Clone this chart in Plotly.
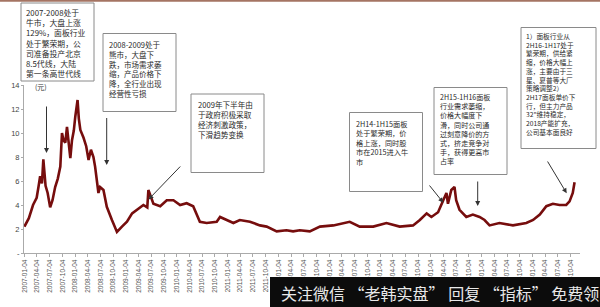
import plotly.graph_objects as go

# ---- data ----
dates = [
    "2007-01-04", "2007-02-05", "2007-03-07", "2007-04-02", "2007-04-15", "2007-04-27", "2007-05-10",
    "2007-05-20", "2007-06-05", "2007-06-20", "2007-07-08", "2007-07-25", "2007-08-13", "2007-09-01",
    "2007-09-19", "2007-10-01", "2007-10-12", "2007-10-25", "2007-11-06", "2007-11-18", "2007-11-30",
    "2007-12-12", "2007-12-25", "2008-01-05", "2008-01-21", "2008-01-30", "2008-02-10", "2008-03-04",
    "2008-03-23", "2008-04-09", "2008-04-26", "2008-05-14", "2008-05-26", "2008-06-19", "2008-07-01",
    "2008-07-25", "2008-08-18", "2008-09-24", "2008-10-30", "2008-12-05", "2009-01-10", "2009-02-16",
    "2009-03-21", "2009-05-08", "2009-06-05", "2009-06-13", "2009-07-19", "2009-09-06", "2009-10-23",
    "2009-12-10", "2010-01-27", "2010-03-15", "2010-05-01", "2010-06-18", "2010-08-06", "2010-10-17",
    "2010-11-10", "2010-12-28", "2011-02-14", "2011-04-01", "2011-06-13", "2011-08-24", "2011-10-11",
    "2011-12-22", "2012-03-01", "2012-04-18", "2012-06-05", "2012-08-16", "2012-10-28", "2013-02-01",
    "2013-05-30", "2013-08-10", "2013-11-15", "2014-02-18", "2014-05-24", "2014-08-28", "2014-10-16",
    "2014-12-04", "2015-01-07", "2015-02-24", "2015-04-01", "2015-04-25", "2015-05-06", "2015-05-30",
    "2015-06-22", "2015-07-04", "2015-07-28", "2015-09-15", "2015-11-01", "2015-12-19", "2016-01-24",
    "2016-02-29", "2016-05-10", "2016-08-15", "2016-11-19", "2017-01-07", "2017-02-24", "2017-04-12",
    "2017-05-29", "2017-07-16", "2017-09-02", "2017-09-26", "2017-10-19", "2017-11-01",
]
price = [
    2.2, 2.9, 4.0, 4.6, 5.5, 6.4, 5.8,
    7.8, 5.6, 5.0, 3.8, 4.4, 5.5, 6.2,
    7.2, 10.0, 9.4, 9.2, 10.5, 9.0, 7.9,
    9.4, 10.2, 11.4, 12.75, 11.2, 10.25, 9.6,
    8.9, 7.75, 8.6, 8.0, 7.2, 5.0, 5.5,
    5.25, 3.85, 2.75, 1.75, 2.2, 2.6, 3.3,
    3.6, 4.0, 3.8, 5.25, 4.1, 3.9, 4.4,
    4.4, 4.0, 4.15, 3.9, 2.6, 2.5, 2.6,
    3.0, 2.75, 2.5, 2.75, 2.6, 2.3, 2.2,
    1.8, 1.9, 1.8, 1.9, 1.8, 2.2, 2.3,
    2.6, 2.2, 2.2, 2.5, 2.2, 2.3, 2.75,
    3.3, 3.0, 3.4, 4.4, 5.0, 4.1, 5.25,
    5.5, 4.4, 3.6, 3.0, 3.2, 3.0, 2.75,
    2.3, 2.5, 2.3, 2.5, 2.75, 3.2, 3.9,
    4.1, 4.0, 4.0, 4.3, 5.0, 5.9,
]

tick_dates = [
    "2007-01-04", "2007-04-04", "2007-07-04", "2007-10-04",
    "2008-01-04", "2008-04-04", "2008-07-04", "2008-10-04",
    "2009-01-04", "2009-04-04", "2009-07-04", "2009-10-04",
    "2010-01-04", "2010-04-04", "2010-07-04", "2010-10-04",
    "2011-01-04", "2011-04-04", "2011-07-04", "2011-10-04",
    "2012-01-04", "2012-04-04", "2012-07-04", "2012-10-04",
    "2013-01-04", "2013-04-04", "2013-07-04", "2013-10-04",
    "2014-01-04", "2014-04-04", "2014-07-04", "2014-10-04",
    "2015-01-04", "2015-04-04", "2015-07-04", "2015-10-04",
    "2016-01-04", "2016-04-04", "2016-07-04", "2016-10-04",
    "2017-01-04", "2017-04-04", "2017-07-04", "2017-10-04",
]
y_ticks = [0, 2, 4, 6, 8, 10, 12, 14]
y_ticktext = ["-", "2", "4", "6", "8", "10", "12", "14"]

box1 = ["2007-2008处于", "牛市，大盘上涨", "129%，面板行业", "处于繁荣期，公", "司准备投产北京", "8.5代线，大陆", "第一条高世代线"]
box2 = ["2008-2009处于", "熊市，大盘下", "跌，市场需求萎", "缩，产品价格下", "降，全行业出现", "经营性亏损"]
box3 = ["2009年下半年由", "于政府积极采取", "经济刺激政策，", "下滑趋势变换"]
box4 = ["2H14-1H15面板", "处于繁荣期，价", "格上涨，同时股", "市在2015进入牛", "市"]
box5 = ["2H15-1H16面板", "行业需求萎缩，", "价格大幅度下", "滑，同时公司通", "过刻意降价的方", "式，挤走竞争对", "手，获得更高市", "占率"]
box6 = ["1）面板行业从", "2H16-1H17处于", "繁荣期，供给紧", "缩，价格大幅上", "涨，主要由于三", "星、夏普等大厂", "策略调整2）", "2H17面板单价下", "行，但主力产品", "32\"维持稳定，", "2018产能扩充，", "公司基本面良好"]

# ---- layout geometry (pixels) ----
W, H = 600, 307
L, R, T, B = 24, 580, 85, 253


def px(x):
    return (x - L) / (R - L)


def py(y):
    return (B - y) / (B - T)


fig = go.Figure()
fig.add_trace(go.Scatter(
    x=dates, y=price, mode="lines",
    line=dict(color="#760d0d", width=2.6),
    hoverinfo="skip", showlegend=False,
))

CJK = "Noto Sans CJK SC"
shapes = []
annotations = []

# top brown rule
shapes.append(dict(type="line", xref="paper", yref="paper", x0=px(0), x1=px(600),
                   y0=py(0.8), y1=py(0.8), line=dict(color="#a57463", width=2)))

# text boxes: (lines, left, top, right, bottom, text_x, first_line_center_y, line spacing)
boxes = [
    (box1, 21, 3, 94, 81, 25, 10.5, 10.2),
    (box2, 103, 33.5, 176, 111.5, 108, 42.5, 9.8),
    (box3, 191, 94, 264, 172.5, 196.5, 103, 9.9),
    (box4, 349.5, 112.5, 422.5, 191.5, 355, 122, 9.4),
    (box5, 434, 87.5, 507, 174.5, 439, 95.5, 9.2),
    (box6, 521, 27.5, 596, 148.5, 525, 33.8, 8.7),
]
for lines, x0, y0, x1, y1, tx, ty, sp in boxes:
    shapes.append(dict(type="rect", xref="paper", yref="paper",
                       x0=px(x0), x1=px(x1), y0=py(y0), y1=py(y1),
                       line=dict(color="#8a8a8a", width=1), fillcolor="white", layer="above"))
    fs = sp / 1.3
    annotations.append(dict(text="<br>".join(lines), xref="paper", yref="paper",
                            x=px(tx), y=py(ty - 0.62 * fs), xanchor="left", yanchor="top",
                            align="left", borderpad=0, showarrow=False,
                            font=dict(family=CJK, size=fs, color="#2a2a2a")))

# arrows: (tail_x, tail_y, head_x, head_y)
arrows = [
    (46.5, 105, 46.5, 153),
    (106.7, 116.5, 106.7, 165),
    (181.7, 165, 148.5, 199.5),
    (428.3, 184, 443.3, 202.7),
    (477.7, 180, 477.7, 206),
    (546.7, 160, 566.7, 193.3),
]
for tx, ty, hx, hy in arrows:
    annotations.append(dict(text="", xref="paper", yref="paper", x=px(hx), y=py(hy),
                            ax=tx - hx, ay=ty - hy, showarrow=True, arrowhead=2,
                            arrowsize=1, arrowwidth=1, arrowcolor="#333333"))

# unit label
annotations.append(dict(text="(元)", xref="paper", yref="paper", x=px(33), y=py(87),
                        xanchor="left", yanchor="middle", showarrow=False,
                        font=dict(family=CJK, size=7, color="#333333")))

# bottom black banner
shapes.append(dict(type="rect", xref="paper", yref="paper", x0=px(270), x1=px(601),
                   y0=py(277), y1=py(308), line=dict(width=0), fillcolor="#0c0c0c", layer="above"))
annotations.append(dict(text="关注微信 “老韩实盘” 回复 “指标” 免费领", xref="paper", yref="paper",
                        x=px(279), y=py(293), xanchor="left", yanchor="middle", showarrow=False,
                        font=dict(family=CJK, size=16, color="#e8e8e8")))

fig.update_layout(
    width=W, height=H,
    margin=dict(l=L, r=W - R, t=T, b=H - B),
    paper_bgcolor="white", plot_bgcolor="white",
    shapes=shapes, annotations=annotations,
    xaxis=dict(
        type="date", range=["2007-01-01", "2017-12-10"],
        tickmode="array", tickvals=tick_dates, ticktext=tick_dates,
        tickangle=-90, tickfont=dict(family="Liberation Sans", size=6.5, color="#555555"),
        showgrid=False, zeroline=False, showline=True, linecolor="#aaaaaa", linewidth=1,
        ticks="outside", ticklen=3, tickcolor="#aaaaaa",
    ),
    yaxis=dict(
        range=[0, 14], tickmode="array", tickvals=y_ticks, ticktext=y_ticktext,
        tickfont=dict(family="Liberation Sans", size=7.5, color="#444444"),
        showgrid=False, zeroline=False, showline=True, linecolor="#aaaaaa", linewidth=1,
        ticks="outside", ticklen=2, tickcolor="#aaaaaa",
    ),
)

fig.write_html("out.html")
